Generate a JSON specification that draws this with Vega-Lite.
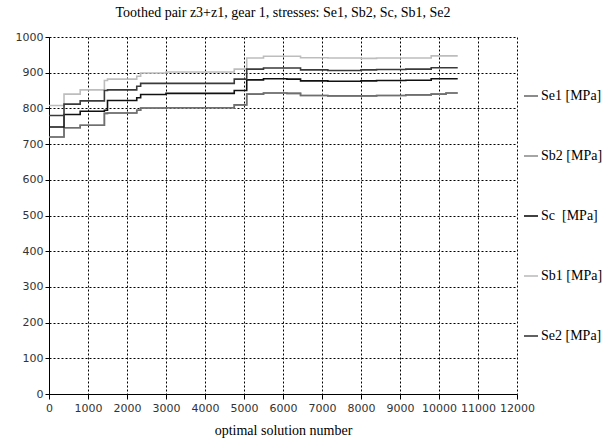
{
  "$schema": "https://vega.github.io/schema/vega-lite/v6.json",
  "autosize": {"type": "none"},
  "padding": {"left": 49, "top": 37, "right": 96, "bottom": 48},
  "width": 468,
  "height": 357,
  "background": "white",
  "title": {
    "text": "Toothed pair z3+z1, gear 1, stresses: Se1, Sb2, Sc, Sb1, Se2",
    "font": "Liberation Serif",
    "fontSize": 14,
    "fontWeight": "normal",
    "color": "#000000",
    "anchor": "middle",
    "offset": 11
  },
  "config": {
    "view": {"stroke": null},
    "axis": {
      "labelFont": "DejaVu Sans",
      "labelFontSize": 11,
      "labelColor": "#333333",
      "titleFont": "Liberation Serif",
      "titleFontSize": 14,
      "titleFontWeight": "normal",
      "titleColor": "#000000",
      "domainColor": "#000000",
      "tickColor": "#000000",
      "gridColor": "#000000",
      "gridDash": [2, 2],
      "gridOpacity": 1,
      "gridWidth": 1
    }
  },
  "data": {
    "values": [
      {"s": "Sb2 [MPa]", "x": 0, "y": 720},
      {"s": "Sb2 [MPa]", "x": 385, "y": 746},
      {"s": "Sb2 [MPa]", "x": 800, "y": 753},
      {"s": "Sb2 [MPa]", "x": 1420, "y": 786},
      {"s": "Sb2 [MPa]", "x": 1500, "y": 787},
      {"s": "Sb2 [MPa]", "x": 2250, "y": 795},
      {"s": "Sb2 [MPa]", "x": 2350, "y": 801},
      {"s": "Sb2 [MPa]", "x": 3000, "y": 802},
      {"s": "Sb2 [MPa]", "x": 4750, "y": 810},
      {"s": "Sb2 [MPa]", "x": 5070, "y": 840},
      {"s": "Sb2 [MPa]", "x": 5500, "y": 843},
      {"s": "Sb2 [MPa]", "x": 6100, "y": 842},
      {"s": "Sb2 [MPa]", "x": 6450, "y": 836},
      {"s": "Sb2 [MPa]", "x": 7150, "y": 835},
      {"s": "Sb2 [MPa]", "x": 8000, "y": 835},
      {"s": "Sb2 [MPa]", "x": 8400, "y": 836},
      {"s": "Sb2 [MPa]", "x": 9150, "y": 838},
      {"s": "Sb2 [MPa]", "x": 9800, "y": 840},
      {"s": "Sb2 [MPa]", "x": 10180, "y": 843},
      {"s": "Sb2 [MPa]", "x": 10480, "y": 843},

      {"s": "Se1 [MPa]", "x": 0, "y": 720},
      {"s": "Se1 [MPa]", "x": 385, "y": 746},
      {"s": "Se1 [MPa]", "x": 800, "y": 753},
      {"s": "Se1 [MPa]", "x": 1420, "y": 786},
      {"s": "Se1 [MPa]", "x": 1500, "y": 787},
      {"s": "Se1 [MPa]", "x": 2250, "y": 795},
      {"s": "Se1 [MPa]", "x": 2350, "y": 801},
      {"s": "Se1 [MPa]", "x": 3000, "y": 802},
      {"s": "Se1 [MPa]", "x": 4750, "y": 810},
      {"s": "Se1 [MPa]", "x": 5070, "y": 840},
      {"s": "Se1 [MPa]", "x": 5500, "y": 843},
      {"s": "Se1 [MPa]", "x": 6100, "y": 842},
      {"s": "Se1 [MPa]", "x": 6450, "y": 836},
      {"s": "Se1 [MPa]", "x": 7150, "y": 835},
      {"s": "Se1 [MPa]", "x": 8000, "y": 835},
      {"s": "Se1 [MPa]", "x": 8400, "y": 836},
      {"s": "Se1 [MPa]", "x": 9150, "y": 838},
      {"s": "Se1 [MPa]", "x": 9800, "y": 840},
      {"s": "Se1 [MPa]", "x": 10180, "y": 843},
      {"s": "Se1 [MPa]", "x": 10480, "y": 843},

      {"s": "Sc\u00a0 [MPa]", "x": 0, "y": 748},
      {"s": "Sc\u00a0 [MPa]", "x": 385, "y": 783},
      {"s": "Sc\u00a0 [MPa]", "x": 800, "y": 792},
      {"s": "Sc\u00a0 [MPa]", "x": 1420, "y": 795},
      {"s": "Sc\u00a0 [MPa]", "x": 1500, "y": 822},
      {"s": "Sc\u00a0 [MPa]", "x": 2250, "y": 830},
      {"s": "Sc\u00a0 [MPa]", "x": 2350, "y": 839},
      {"s": "Sc\u00a0 [MPa]", "x": 3000, "y": 842},
      {"s": "Sc\u00a0 [MPa]", "x": 4750, "y": 850},
      {"s": "Sc\u00a0 [MPa]", "x": 5070, "y": 880},
      {"s": "Sc\u00a0 [MPa]", "x": 5500, "y": 883},
      {"s": "Sc\u00a0 [MPa]", "x": 6100, "y": 882},
      {"s": "Sc\u00a0 [MPa]", "x": 6450, "y": 877},
      {"s": "Sc\u00a0 [MPa]", "x": 7150, "y": 876},
      {"s": "Sc\u00a0 [MPa]", "x": 8000, "y": 877},
      {"s": "Sc\u00a0 [MPa]", "x": 8400, "y": 878},
      {"s": "Sc\u00a0 [MPa]", "x": 9150, "y": 879},
      {"s": "Sc\u00a0 [MPa]", "x": 9800, "y": 883},
      {"s": "Sc\u00a0 [MPa]", "x": 10480, "y": 883},

      {"s": "Sb1 [MPa]", "x": 0, "y": 808},
      {"s": "Sb1 [MPa]", "x": 385, "y": 840},
      {"s": "Sb1 [MPa]", "x": 800, "y": 852},
      {"s": "Sb1 [MPa]", "x": 1420, "y": 878},
      {"s": "Sb1 [MPa]", "x": 1500, "y": 882},
      {"s": "Sb1 [MPa]", "x": 2250, "y": 890},
      {"s": "Sb1 [MPa]", "x": 2350, "y": 899},
      {"s": "Sb1 [MPa]", "x": 3000, "y": 902},
      {"s": "Sb1 [MPa]", "x": 4750, "y": 910},
      {"s": "Sb1 [MPa]", "x": 5070, "y": 941},
      {"s": "Sb1 [MPa]", "x": 5500, "y": 946},
      {"s": "Sb1 [MPa]", "x": 6100, "y": 946},
      {"s": "Sb1 [MPa]", "x": 6450, "y": 942},
      {"s": "Sb1 [MPa]", "x": 7150, "y": 941},
      {"s": "Sb1 [MPa]", "x": 8000, "y": 940},
      {"s": "Sb1 [MPa]", "x": 8400, "y": 941},
      {"s": "Sb1 [MPa]", "x": 9150, "y": 941},
      {"s": "Sb1 [MPa]", "x": 9800, "y": 947},
      {"s": "Sb1 [MPa]", "x": 10480, "y": 947},

      {"s": "Se2 [MPa]", "x": 0, "y": 780},
      {"s": "Se2 [MPa]", "x": 385, "y": 812},
      {"s": "Se2 [MPa]", "x": 800, "y": 821},
      {"s": "Se2 [MPa]", "x": 1420, "y": 850},
      {"s": "Se2 [MPa]", "x": 1500, "y": 852},
      {"s": "Se2 [MPa]", "x": 2250, "y": 862},
      {"s": "Se2 [MPa]", "x": 2350, "y": 870},
      {"s": "Se2 [MPa]", "x": 3000, "y": 870},
      {"s": "Se2 [MPa]", "x": 4750, "y": 882},
      {"s": "Se2 [MPa]", "x": 5070, "y": 910},
      {"s": "Se2 [MPa]", "x": 5500, "y": 913},
      {"s": "Se2 [MPa]", "x": 6100, "y": 913},
      {"s": "Se2 [MPa]", "x": 6450, "y": 908},
      {"s": "Se2 [MPa]", "x": 7150, "y": 906},
      {"s": "Se2 [MPa]", "x": 8000, "y": 908},
      {"s": "Se2 [MPa]", "x": 8400, "y": 909},
      {"s": "Se2 [MPa]", "x": 9150, "y": 910},
      {"s": "Se2 [MPa]", "x": 9800, "y": 914},
      {"s": "Se2 [MPa]", "x": 10480, "y": 914}
    ]
  },
  "mark": {"type": "line", "interpolate": "step-after", "strokeWidth": 1.6},
  "encoding": {
    "x": {
      "field": "x",
      "type": "quantitative",
      "scale": {"domain": [0, 12000], "nice": false, "zero": false},
      "axis": {
        "values": [0, 1000, 2000, 3000, 4000, 5000, 6000, 7000, 8000, 9000, 10000, 11000, 12000],
        "format": "d",
        "tickSize": 5,
        "labelPadding": 3,
        "title": "optimal solution number",
        "titlePadding": 10,
        "labelFlush": false,
        "labelOverlap": false
      }
    },
    "y": {
      "field": "y",
      "type": "quantitative",
      "scale": {"domain": [0, 1000], "nice": false},
      "axis": {
        "values": [0, 100, 200, 300, 400, 500, 600, 700, 800, 900, 1000],
        "format": "d",
        "tickSize": 4,
        "labelPadding": 2,
        "title": null,
        "labelFlush": false,
        "labelOverlap": false
      }
    },
    "color": {
      "field": "s",
      "type": "nominal",
      "scale": {
        "domain": ["Se1 [MPa]", "Sb2 [MPa]", "Sc\u00a0 [MPa]", "Sb1 [MPa]", "Se2 [MPa]"],
        "range": ["#6f6f6f", "#8f8f8f", "#111111", "#bdbdbd", "#3a3a3a"]
      },
      "legend": {
        "orient": "none",
        "legendX": 474,
        "legendY": 51,
        "title": null,
        "symbolType": "stroke",
        "symbolSize": 196,
        "symbolStrokeWidth": 1.6,
        "labelFont": "Liberation Serif",
        "labelFontSize": 14,
        "labelColor": "#000000",
        "labelOffset": 2,
        "rowPadding": 45
      }
    }
  }
}
